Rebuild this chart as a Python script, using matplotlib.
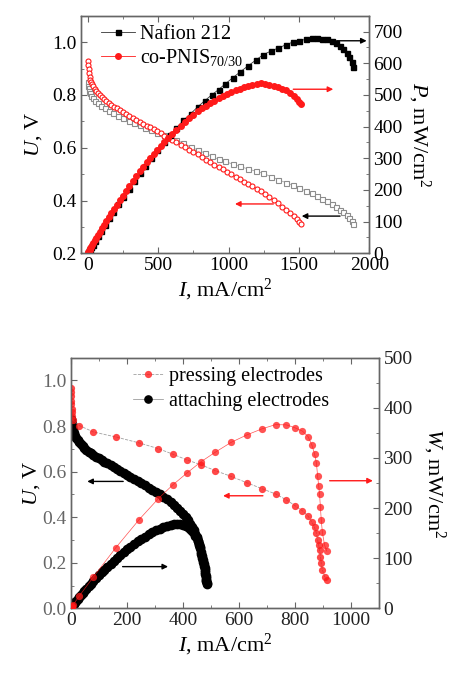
import numpy as np
import matplotlib
matplotlib.use("Agg")
import matplotlib.pyplot as plt
from matplotlib.ticker import MultipleLocator

plt.rcParams['font.family'] = ['Liberation Serif', 'DejaVu Serif']
plt.rcParams['mathtext.fontset'] = 'custom'
plt.rcParams['mathtext.rm'] = 'Liberation Serif'
plt.rcParams['mathtext.it'] = 'Liberation Serif:italic'

# ---------------- top panel: Nafion 212 vs co-PNIS 70/30 ----------------
nafion_I = [0, 4, 8, 12, 18, 25, 35, 50, 70, 95, 120, 150, 180, 215, 250, 290, 330, 370,
            410, 450, 495, 540, 585, 630, 680, 730, 780, 830, 880, 930, 975, 1030, 1082,
            1136, 1193, 1247, 1300, 1353, 1406, 1456, 1500, 1550, 1591, 1631, 1666, 1702,
            1735, 1764, 1792, 1815, 1840, 1858, 1877, 1887]
nafion_U = [0.850, 0.835, 0.825, 0.816, 0.806, 0.797, 0.788, 0.778, 0.768, 0.758, 0.749,
            0.740, 0.731, 0.722, 0.713, 0.703, 0.694, 0.685, 0.676, 0.667, 0.657, 0.648,
            0.638, 0.628, 0.618, 0.603, 0.592, 0.580, 0.568, 0.556, 0.548, 0.538, 0.529,
            0.520, 0.511, 0.503, 0.491, 0.479, 0.468, 0.458, 0.447, 0.436, 0.427, 0.417,
            0.407, 0.397, 0.387, 0.376, 0.365, 0.355, 0.344, 0.333, 0.321, 0.311]
nafion_P = [0, 3.3, 6.6, 9.8, 14.5, 19.9, 27.6, 38.9, 53.8, 72.0, 89.9, 111.0, 131.6, 155.2,
            178.3, 203.9, 229.0, 253.5, 277.2, 300.2, 325.2, 349.9, 373.2, 395.6, 420.2,
            440.2, 461.8, 481.4, 499.8, 517.1, 534.3, 554.1, 572.4, 590.7, 609.6, 627.2,
            638.3, 648.1, 658.0, 666.8, 670.5, 675.8, 679.3, 680.1, 678.1, 675.7, 671.4,
            663.3, 654.1, 644.3, 633.0, 618.7, 602.5, 586.9]

pnis_I = [2, 4, 6, 9, 13, 18, 24, 31, 40, 50, 61, 73, 86, 100, 115, 131, 148, 166, 185, 205,
          226, 248, 271, 295, 320, 345, 370, 395, 420, 445, 470, 495, 520, 545, 570, 600,
          630, 660, 690, 720, 750, 780, 810, 840, 870, 900, 930, 960, 990, 1020, 1050, 1080,
          1110, 1140, 1170, 1200, 1230, 1260, 1290, 1320, 1350, 1380, 1410, 1440, 1465,
          1485, 1503, 1518]
pnis_U = [0.930, 0.912, 0.897, 0.882, 0.868, 0.857, 0.848, 0.840, 0.832, 0.824, 0.816, 0.808,
          0.800, 0.792, 0.784, 0.777, 0.770, 0.763, 0.756, 0.749, 0.742, 0.735, 0.728, 0.721,
          0.713, 0.706, 0.698, 0.691, 0.684, 0.677, 0.670, 0.662, 0.654, 0.646, 0.638, 0.629,
          0.620, 0.611, 0.602, 0.593, 0.584, 0.575, 0.565, 0.555, 0.545, 0.536, 0.527, 0.518,
          0.508, 0.499, 0.490, 0.481, 0.472, 0.463, 0.454, 0.445, 0.436, 0.424, 0.413, 0.401,
          0.389, 0.377, 0.365, 0.352, 0.340, 0.329, 0.318, 0.310]
pnis_P = [1.9, 3.6, 5.4, 7.9, 11.3, 15.4, 20.4, 26.0, 33.3, 41.2, 49.8, 59.0, 68.8, 79.2,
          90.2, 101.8, 114.0, 126.7, 139.9, 153.5, 167.7, 182.3, 197.3, 212.7, 228.2, 243.6,
          258.3, 272.9, 287.3, 301.3, 314.9, 327.7, 340.1, 352.1, 363.7, 377.4, 390.6, 403.3,
          415.4, 427.0, 438.0, 448.5, 457.7, 466.2, 474.2, 482.4, 490.1, 497.3, 502.9, 509.0,
          514.5, 519.5, 523.9, 527.8, 531.2, 534.0, 536.3, 534.2, 532.8, 529.3, 525.2, 520.3,
          514.7, 506.9, 498.1, 488.6, 478.0, 470.6]

# ---------------- bottom panel: pressing vs attaching electrodes ----------------
press_I = [0.5, 1, 1.5, 2, 2.5, 3, 4, 5, 7, 31, 81, 161, 244, 312, 363, 413, 464, 516, 572,
           630, 682, 730, 769, 799, 826, 846, 860, 869, 876, 880, 884, 887, 890, 893, 897,
           905, 913]
press_U = [0.965, 0.948, 0.930, 0.912, 0.895, 0.877, 0.860, 0.843, 0.826, 0.802, 0.774,
           0.752, 0.726, 0.701, 0.677, 0.652, 0.630, 0.604, 0.579, 0.550, 0.525, 0.502,
           0.476, 0.451, 0.428, 0.405, 0.378, 0.355, 0.330, 0.300, 0.276, 0.256, 0.227,
           0.198, 0.169, 0.139, 0.125]
press_W = [0.5, 0.9, 1.4, 1.8, 2.2, 2.6, 3.4, 4.2, 5.8, 24.9, 62.7, 121.1, 177.1, 218.7,
           245.8, 269.3, 292.3, 311.7, 331.2, 346.5, 358.1, 366.5, 366.0, 360.3, 353.5,
           342.6, 325.1, 308.5, 289.1, 264.0, 244.0, 227.1, 202.0, 176.8, 151.6, 125.8, 114.1]

attach_I = [0, 1, 2, 3, 5, 8, 12, 16, 20, 25, 30, 36, 42, 49, 56, 64, 72, 81, 90, 100, 110,
            120, 131, 142, 153, 165, 177, 189, 201, 213, 226, 239, 252, 265, 278, 291, 304,
            317, 330, 343, 356, 368, 380, 391, 401, 410, 418, 425, 432, 438, 444, 449, 454,
            458, 462, 466, 469, 472, 475, 477, 479, 481, 483, 484]
attach_U = [0.832, 0.826, 0.818, 0.810, 0.798, 0.784, 0.770, 0.758, 0.748, 0.739, 0.731,
            0.722, 0.714, 0.705, 0.697, 0.688, 0.681, 0.673, 0.666, 0.658, 0.651, 0.644,
            0.636, 0.628, 0.620, 0.611, 0.602, 0.594, 0.585, 0.577, 0.567, 0.558, 0.549,
            0.540, 0.530, 0.521, 0.511, 0.501, 0.490, 0.479, 0.467, 0.455, 0.442, 0.428,
            0.414, 0.400, 0.386, 0.372, 0.357, 0.342, 0.326, 0.311, 0.294, 0.279, 0.263,
            0.240, 0.222, 0.205, 0.185, 0.168, 0.150, 0.133, 0.118, 0.105]
attach_W = [0, 0.8, 1.6, 2.4, 4.0, 6.3, 9.2, 12.1, 15.0, 18.5, 21.9, 26.0, 30.0, 34.5, 39.0,
            44.0, 49.0, 54.5, 59.9, 65.8, 71.6, 77.3, 83.3, 89.2, 94.9, 100.8, 106.6, 112.3,
            117.6, 122.9, 128.1, 133.4, 138.3, 143.1, 147.3, 151.6, 155.3, 158.8, 161.7,
            164.3, 166.3, 167.4, 168.0, 167.3, 166.0, 164.0, 161.3, 158.1, 154.2, 149.8,
            144.7, 139.6, 133.5, 127.8, 121.5, 111.8, 104.1, 96.8, 87.9, 80.1, 71.9, 64.0,
            57.0, 50.8]

RED = '#ff1a1a'
SPINE = '#666666'
LBL = 16
TCK = 14


def style_axes(ax, ax2, tick_color='black', left_color='black'):
    for a in (ax, ax2):
        for s in a.spines.values():
            s.set_color(SPINE)
            s.set_linewidth(1.0)
    ax.tick_params(which='both', direction='in', top=True, right=False, color=SPINE,
                   labelsize=TCK, labelcolor=tick_color, pad=3)
    ax.tick_params(axis='y', labelcolor=left_color)
    ax.tick_params(which='major', length=4)
    ax.tick_params(which='minor', length=2.5)
    ax2.tick_params(which='both', direction='in', color=SPINE, labelsize=TCK,
                    labelcolor=tick_color, pad=3)
    ax2.tick_params(which='major', length=4)
    ax2.tick_params(which='minor', length=2.5)


def arrow(ax, x0, x1, y, color):
    ax.annotate('', xy=(x1, y), xytext=(x0, y),
                arrowprops=dict(arrowstyle='-|>', color=color, lw=1.0,
                                mutation_scale=8, shrinkA=0, shrinkB=0))


fig = plt.figure(figsize=(4.49, 6.73), dpi=100)

# ---------- top ----------
ax = fig.add_axes([0.1797, 0.6236, 0.6428, 0.3530])
ax2 = ax.twinx()

ax.plot(nafion_I, nafion_U, '-', color='#aaaaaa', lw=0.6, marker='s', ms=3.6,
        mfc='white', mec='#8c8c8c', mew=0.8, zorder=2)
ax.plot(pnis_I, pnis_U, '-', color=RED, lw=0.5, marker='o', ms=3.6,
        mfc='white', mec=RED, mew=0.8, zorder=3)
l1, = ax2.plot(nafion_I, nafion_P, '-', color='#333333', lw=0.6, marker='s', ms=3.6,
               mfc='black', mec='black', label='Nafion 212')
l2, = ax2.plot(pnis_I, pnis_P, '-', color=RED, lw=0.6, marker='o', ms=4.0,
               mfc=RED, mec=RED, label='co-PNIS$_{70/30}$')

ax.set_xlim(-50, 2000)
ax.set_ylim(0.2, 1.1)
ax2.set_ylim(0, 750)
ax.xaxis.set_major_locator(MultipleLocator(500))
ax.xaxis.set_minor_locator(MultipleLocator(250))
ax.yaxis.set_major_locator(MultipleLocator(0.2))
ax.yaxis.set_minor_locator(MultipleLocator(0.1))
ax2.yaxis.set_major_locator(MultipleLocator(100))
ax2.yaxis.set_minor_locator(MultipleLocator(50))
style_axes(ax, ax2)

ax.set_xlabel('$I$, mA/cm$^2$', fontsize=LBL, labelpad=2)
ax.set_ylabel('$U$, V', fontsize=LBL, labelpad=6)
ax2.set_ylabel('$P$, mW/cm$^2$', fontsize=LBL, rotation=270, va='bottom', labelpad=2)

arrow(ax2, 1768, 1981, 671, 'black')
arrow(ax2, 1460, 1744, 518, RED)
arrow(ax, 1318, 1046, 0.387, RED)
arrow(ax, 1792, 1520, 0.341, 'black')

ax2.legend(handles=[l1, l2], loc='upper left', bbox_to_anchor=(0.02, 1.02),
           frameon=False, fontsize=14.5, handlelength=1.7, handletextpad=0.25,
           labelspacing=0.15, borderpad=0.2)

# ---------- bottom ----------
bx = fig.add_axes([0.1575, 0.0961, 0.6873, 0.3724])
bx2 = bx.twinx()

bx2.plot(attach_I, attach_W, '-', color='#888888', lw=0.5, marker='o', ms=6.0,
         mfc='black', mec='black', zorder=2)
bx.plot(attach_I, attach_U, '-', color='#888888', lw=0.5, marker='o', ms=6.0,
        mfc='black', mec='black', zorder=2)
bx.plot(press_I, press_U, '--', color='#888888', lw=0.6, marker='o', ms=5.2,
        mfc=RED, mec='none', alpha=0.8, zorder=3)
bx2.plot(press_I, press_W, '-', color=RED, lw=0.5, marker='o', ms=5.2,
         mfc=RED, mec='none', alpha=0.75, zorder=3)

bx.set_xlim(0, 1100)
bx.set_ylim(0, 1.1)
bx2.set_ylim(0, 500)
bx.xaxis.set_major_locator(MultipleLocator(200))
bx.xaxis.set_minor_locator(MultipleLocator(100))
bx.yaxis.set_major_locator(MultipleLocator(0.2))
bx.yaxis.set_minor_locator(MultipleLocator(0.1))
bx2.yaxis.set_major_locator(MultipleLocator(100))
bx2.yaxis.set_minor_locator(MultipleLocator(50))
style_axes(bx, bx2, tick_color='#222222', left_color='#666666')

bx.set_xlabel('$I$, mA/cm$^2$', fontsize=LBL, labelpad=2)
bx.set_ylabel('$U$, V', fontsize=LBL, labelpad=0)
bx2.set_ylabel('$W$, mW/cm$^2$', fontsize=LBL, rotation=270, va='bottom', labelpad=6)

arrow(bx, 187, 59, 0.557, 'black')
arrow(bx, 185, 347, 0.183, 'black')
arrow(bx, 685, 543, 0.494, RED)
arrow(bx, 923, 1077, 0.56, RED)

h1, = bx2.plot([], [], '--', color='#888888', lw=0.6, marker='o', ms=5.2, mfc=RED,
               mec='none', alpha=0.8, label='pressing electrodes')
h2, = bx2.plot([], [], '-', color='#888888', lw=0.5, marker='o', ms=5.2, mfc='black',
               mec='black', label='attaching electrodes')
bx2.legend(handles=[h1, h2], loc='upper left', bbox_to_anchor=(0.155, 1.02),
           frameon=False, fontsize=14.5, handlelength=1.5, handletextpad=0.3,
           labelspacing=0.3, borderpad=0.2)

fig.savefig('out.png', dpi=100)
